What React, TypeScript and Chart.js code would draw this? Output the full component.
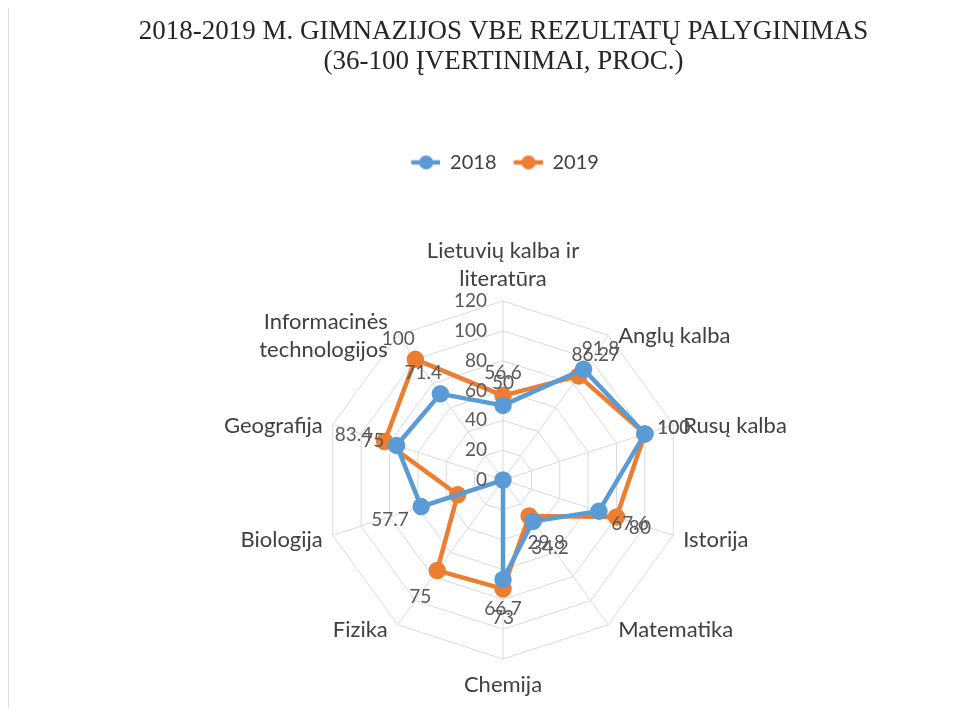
import React, { useEffect, useRef } from "react";
import { Chart, registerables } from "chart.js";

Chart.register(...registerables);

const categories: (string | string[])[] = [
  ["Lietuvių kalba ir", "literatūra"],
  "Anglų kalba",
  "Rusų kalba",
  "Istorija",
  "Matematika",
  "Chemija",
  "Fizika",
  "Biologija",
  "Geografija",
  ["Informacinės", "technologijos"],
];
const values2018 = [50, 91.8, 100, 67.6, 34.2, 66.7, 0, 57.7, 75, 71.4];
const values2019 = [56.6, 86.27, 100, 80, 29.8, 73, 75, 32, 83.4, 100];
// labels that are not visible in the original picture (hidden behind other text)
const hiddenLabels2018 = [false, false, false, false, false, false, true, false, false, false];
const hiddenLabels2019 = [false, false, false, false, false, false, false, true, false, false];
const seriesNames = ["2018", "2019"];
const tickValues = [0, 20, 40, 60, 80, 100, 120];
const titleLines = ["2018-2019 M. GIMNAZIJOS VBE REZULTATŲ PALYGINIMAS", "(36-100 ĮVERTINIMAI, PROC.)"];

const BLUE = "#5B9BD5";
const ORANGE = "#ED7D31";
const FONT = "Lato, 'Open Sans', sans-serif";

function legendMarker(color: string): HTMLCanvasElement {
  const c = document.createElement("canvas");
  c.width = 32;
  c.height = 16;
  const ctx = c.getContext("2d")!;
  ctx.strokeStyle = color;
  ctx.lineWidth = 4.5;
  ctx.lineCap = "round";
  ctx.beginPath();
  ctx.moveTo(5, 8);
  ctx.lineTo(31, 8);
  ctx.stroke();
  ctx.fillStyle = color;
  ctx.beginPath();
  ctx.arc(18, 8, 7, 0, Math.PI * 2);
  ctx.fill();
  return c;
}

const legendSpacePlugin = {
  id: "legendSpace",
  beforeInit(chart: any) {
    const legend = chart.legend;
    if (!legend) return;
    const origFit = legend.fit;
    legend.fit = function () {
      origFit.call(this);
      this.height += 118;
    };
  },
};

const pointLabelPlugin = {
  id: "catLabels",
  beforeDatasetsDraw(chart: any) {
    const scale = chart.scales.r;
    const ctx = chart.ctx;
    const lh = 28;
    ctx.save();
    ctx.font = `22px ${FONT}`;
    ctx.fillStyle = "#404040";
    ctx.textBaseline = "middle";
    categories.forEach((lab, i) => {
      const lines = Array.isArray(lab) ? lab : [lab];
      const p = scale.getPointPosition(i, scale.drawingArea);
      const ang = (i / categories.length) * Math.PI * 2;
      const s = Math.sin(ang);
      const c = Math.cos(ang);
      let x = p.x;
      let y0: number;
      if (Math.abs(s) < 1e-6) {
        ctx.textAlign = "center";
        if (c > 0) y0 = p.y - 22 - lh * (lines.length - 1);
        else y0 = p.y + 26;
      } else {
        ctx.textAlign = s > 0 ? "left" : "right";
        x = p.x + (s > 0 ? 10 : -10);
        y0 = p.y + (c < 0 ? 5 : 1) - (lh * (lines.length - 1)) / 2;
      }
      lines.forEach((t, k) => ctx.fillText(t, x, y0 + k * lh));
    });
    ctx.restore();
  },
};

const tickPlugin = {
  id: "tickLabels",
  afterDraw(chart: any) {
    const scale = chart.scales.r;
    const ctx = chart.ctx;
    ctx.save();
    ctx.font = `19px ${FONT}`;
    ctx.fillStyle = "#595959";
    ctx.textAlign = "right";
    ctx.textBaseline = "middle";
    tickValues.forEach((v) => {
      const d = scale.getDistanceFromCenterForValue(v);
      ctx.fillText(String(v), scale.xCenter - 16, scale.yCenter - d);
    });
    ctx.restore();
  },
};

const dataLabelPlugin = {
  id: "dataLabels",
  afterDatasetsDraw(chart: any) {
    const ctx = chart.ctx;
    const hidden = [hiddenLabels2018, hiddenLabels2019];
    ctx.save();
    ctx.font = `19px ${FONT}`;
    ctx.fillStyle = "#595959";
    ctx.textAlign = "center";
    ctx.textBaseline = "middle";
    chart.data.datasets.forEach((ds: any, di: number) => {
      const meta = chart.getDatasetMeta(di);
      ds.data.forEach((v: number, i: number) => {
        if (hidden[di][i]) return;
        const pt = meta.data[i];
        const ang = (i / categories.length) * Math.PI * 2;
        const dx = Math.sin(ang);
        const dy = -Math.cos(ang);
        const text = String(v);
        const hw = ctx.measureText(text).width / 2;
        const hh = 13;
        const edge = Math.min(
          Math.abs(dx) > 1e-6 ? hw / Math.abs(dx) : Infinity,
          Math.abs(dy) > 1e-6 ? hh / Math.abs(dy) : Infinity
        );
        const dist = edge + 13;
        ctx.fillText(text, pt.x + dx * dist, pt.y + dy * dist + 3);
      });
    });
    ctx.restore();
  },
};

export default function App() {
  const ref = useRef<HTMLCanvasElement>(null);
  useEffect(() => {
    if (!ref.current) return;
    const chart = new Chart(ref.current, {
      type: "radar",
      data: {
        labels: categories,
        datasets: [
          {
            label: seriesNames[0],
            data: values2018,
            borderColor: BLUE,
            backgroundColor: BLUE,
            pointBackgroundColor: BLUE,
            pointBorderColor: BLUE,
            borderWidth: 4.5,
            pointRadius: 6.5,
            fill: false,
          },
          {
            label: seriesNames[1],
            data: values2019,
            borderColor: ORANGE,
            backgroundColor: ORANGE,
            pointBackgroundColor: ORANGE,
            pointBorderColor: ORANGE,
            borderWidth: 4.5,
            pointRadius: 6.5,
            fill: false,
          },
        ],
      },
      options: {
        animation: false,
        responsive: false,
        layout: { padding: { left: 30, right: 0, top: 0, bottom: 48 } },
        elements: { point: { pointStyle: "circle" } },
        scales: {
          r: {
            min: 0,
            max: 120,
            ticks: { display: false, stepSize: 20 },
            grid: { color: "#d9d9d9", lineWidth: 1 },
            angleLines: { color: "#d9d9d9", lineWidth: 1 },
            pointLabels: { display: false },
          },
        },
        plugins: {
          title: {
            display: true,
            text: titleLines,
            font: { family: "'Liberation Serif', serif", size: 27, weight: "normal", lineHeight: 1.1 },
            color: "#262626",
            padding: { top: 9, bottom: 62 },
          },
          legend: {
            position: "top",
            labels: {
              usePointStyle: true,
              pointStyleWidth: 32,
              font: { family: FONT, size: 20 },
              color: "#404040",
              padding: 14,
              generateLabels: (ch: any) =>
                ch.data.datasets.map((ds: any, i: number) => ({
                  text: ds.label,
                  pointStyle: legendMarker(i === 0 ? BLUE : ORANGE),
                  fillStyle: ds.borderColor,
                  strokeStyle: ds.borderColor,
                  lineWidth: 0,
                  datasetIndex: i,
                  fontColor: "#404040",
                })),
            },
          },
          tooltip: { enabled: false },
        },
      },
      plugins: [legendSpacePlugin, pointLabelPlugin, tickPlugin, dataLabelPlugin],
    });
    return () => chart.destroy();
  }, []);
  return (
    <div style={{ width: 960, height: 700, borderLeft: "1px solid #e0e0e0", boxSizing: "border-box" }}>
      <canvas ref={ref} width={959} height={700} style={{ display: "block" }} />
    </div>
  );
}
